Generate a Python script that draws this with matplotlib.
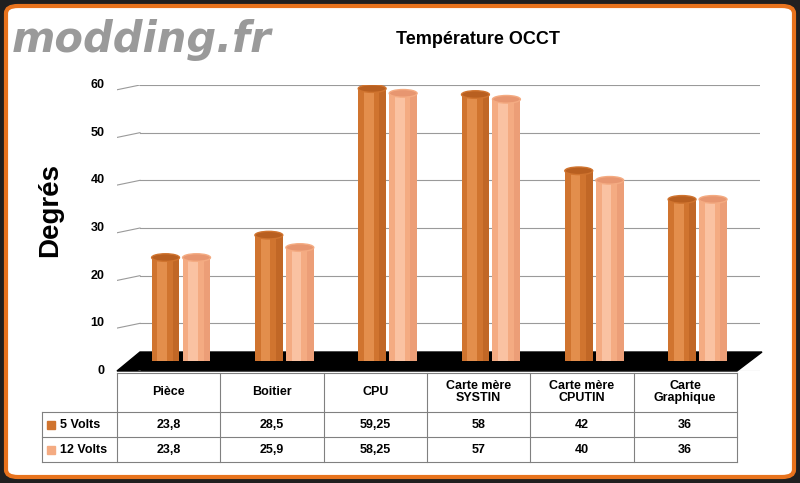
import matplotlib
matplotlib.use("Agg")
import matplotlib.pyplot as plt
from matplotlib.patches import Ellipse, Polygon, FancyBboxPatch, Rectangle
from matplotlib.lines import Line2D

categories = ["Pièce", "Boitier", "CPU", "Carte mère\nSYSTIN", "Carte mère\nCPUTIN", "Carte\nGraphique"]
series_names = ["5 Volts", "12 Volts"]
volts5 = [23.8, 28.5, 59.25, 58, 42, 36]
volts12 = [23.8, 25.9, 58.25, 57, 40, 36]
labels5 = ["23,8", "28,5", "59,25", "58", "42", "36"]
labels12 = ["23,8", "25,9", "58,25", "57", "40", "36"]
yticks = [0, 10, 20, 30, 40, 50, 60]

W, H = 800, 483
fig = plt.figure(figsize=(8, 4.83), dpi=100)
fig.patch.set_facecolor("#202020")
FONT = "Liberation Sans"

def fx(x): return x / W
def fy(y): return 1 - y / H

# frame
fig.patches.append(FancyBboxPatch((fx(6), fy(477)), fx(788), 1 - fy(6) - fy(477) + fy(6) * 0 + (fy(6) - fy(477)) - (fy(6) - fy(477)),
                                  boxstyle="round,pad=0,rounding_size=0.015", transform=fig.transFigure,
                                  facecolor="white", edgecolor="#e8731d", linewidth=3))
fig.patches[-1].set_bounds(fx(6), fy(477), fx(788), fy(6) - fy(477))

fig.text(fx(12), fy(40), "modding.fr", fontsize=30, fontweight="bold", color="#9a9a9a",
         family="DejaVu Sans", va="center", style="italic")
fig.text(fx(478), fy(40), "Température OCCT", fontsize=13, fontweight="bold", ha="center", va="center", family=FONT)
fig.text(fx(50), fy(210), "Degrés", fontsize=20, fontweight="bold", rotation=90, ha="center", va="center", family=FONT)

x0, colw = 117, 103.3
ax = fig.add_axes([fx(x0), fy(371), fx(760 - x0), fy(85) - fy(371)])
ax.set_xlim(0, (760 - x0) / colw)
ax.set_ylim(0, 60)
ax.axis("off")
for t in yticks:
    ax.axhline(t, xmin=23 / (760 - x0), color="#9a9a9a", lw=0.8, zorder=0)
    ax.text(-0.12, t, str(t), ha="right", va="center", fontsize=9, fontweight="bold", family=FONT)
    ax.add_line(Line2D([0, 23 / colw], [t - 1.0, t], color="#9a9a9a", lw=0.8, zorder=0))

# floor
fig.patches.append(Polygon([(fx(117), fy(371)), (fx(737), fy(371)), (fx(762), fy(352)), (fx(140), fy(352))],
                           closed=True, transform=fig.transFigure, facecolor="black", edgecolor="black", zorder=1))
ax.set_zorder(2)

bw = 0.27
eh = 1.6
for vals, off, col, light, top in [(volts5, 0.47, "#d0742f", "#f0a060", "#b85f20"),
                                   (volts12, 0.77, "#f4ab82", "#ffd2b8", "#e79670")]:
    for i, v in enumerate(vals):
        c = i + off
        ax.bar(c, v - 2, bottom=2, width=bw, color=col, zorder=3)
        ax.bar(c - bw * 0.12, v - 2, bottom=2, width=bw * 0.35, color=light, alpha=0.6, zorder=4, lw=0)
        ax.bar(c + bw * 0.38, v - 2, bottom=2, width=bw * 0.24, color=top, alpha=0.6, zorder=4, lw=0)
        ax.add_patch(Ellipse((c, v), bw, eh, facecolor=top, edgecolor=col, zorder=5))

# table
rows = [(373, 412), (412, 437), (437, 462)]
xs = [x0 + colw * k for k in range(7)]
lc = "#808080"
def line(xa, ya, xb, yb):
    fig.add_artist(Line2D([fx(xa), fx(xb)], [fy(ya), fy(yb)], color=lc, lw=0.8, transform=fig.transFigure))
line(x0, 373, xs[-1], 373)
line(42, 412, xs[-1], 412)
line(42, 437, xs[-1], 437)
line(42, 462, xs[-1], 462)
line(42, 412, 42, 462)
for x in xs:
    line(x, 373, x, 462)
for k in range(6):
    cx = (xs[k] + xs[k + 1]) / 2
    fig.text(fx(cx), fy(392), categories[k], ha="center", va="center", fontsize=9, fontweight="bold", family=FONT, linespacing=1.1)
    fig.text(fx(cx), fy(425), labels5[k], ha="center", va="center", fontsize=9, fontweight="bold", family=FONT)
    fig.text(fx(cx), fy(450), labels12[k], ha="center", va="center", fontsize=9, fontweight="bold", family=FONT)
for yy, name, col in [(425, series_names[0], "#d0742f"), (450, series_names[1], "#f4ab82")]:
    fig.patches.append(Rectangle((fx(47), fy(yy + 4)), fx(8), fy(yy - 4) - fy(yy + 4), transform=fig.transFigure, color=col))
    fig.text(fx(60), fy(yy), name, ha="left", va="center", fontsize=9, fontweight="bold", family=FONT)

fig.savefig("out.png", dpi=100, facecolor=fig.get_facecolor())
